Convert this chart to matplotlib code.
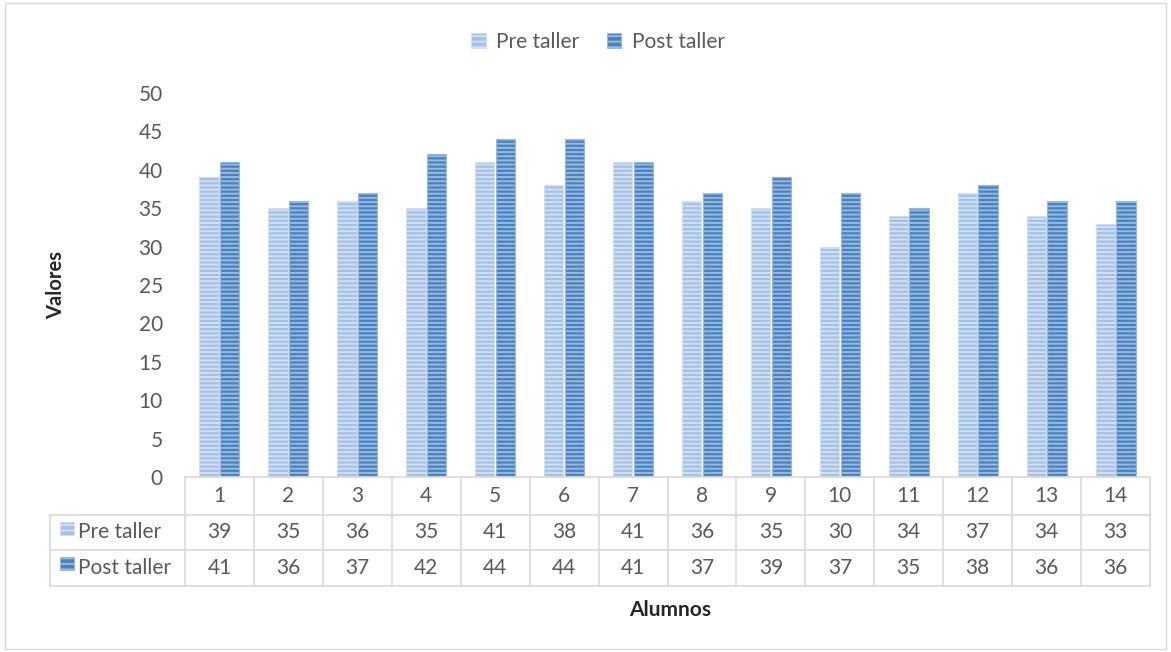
import numpy as np
import matplotlib
matplotlib.use("Agg")
import matplotlib.pyplot as plt
import matplotlib.transforms as mtransforms
from matplotlib.patches import Patch, Rectangle

alumnos = [str(i) for i in range(1, 15)]
pre_taller = [39, 35, 36, 35, 41, 38, 41, 36, 35, 30, 34, 37, 34, 33]
post_taller = [41, 36, 37, 42, 44, 44, 41, 37, 39, 37, 35, 38, 36, 36]
series_names = ["Pre taller", "Post taller"]

plt.rcParams['font.family'] = ['Lato', 'DejaVu Sans']
plt.rcParams['hatch.linewidth'] = 1.4
txt = '#595959'
grid_c = '#d9d9d9'
fs = 15

pre_face, pre_edge = '#a5c1e5', '#d0dff2'
post_face, post_edge = '#4a82c0', '#97b9df'

fig = plt.figure(figsize=(11.71, 6.52), dpi=100)
fig.patches.append(Rectangle((0.004, 0.004), 0.992, 0.992, transform=fig.transFigure,
                             fill=False, edgecolor=grid_c, linewidth=1))
ax = fig.add_axes([185 / 1171, 1 - 477 / 652, 965 / 1171, 384 / 652])

x = np.arange(len(alumnos))
w = 0.28
ax.bar(x - w / 2 - 0.01, pre_taller, w, color=pre_face, edgecolor=pre_edge,
       linewidth=0.8, hatch='----')
ax.bar(x + w / 2 + 0.01, post_taller, w, color=post_face, edgecolor=post_edge,
       linewidth=0.8, hatch='----')

ax.set_xlim(-0.5, len(alumnos) - 0.5)
ax.set_ylim(0, 50)
ax.set_yticks(range(0, 51, 5))
ax.tick_params(axis='y', length=0, labelsize=fs, labelcolor=txt, pad=16)
ax.set_xticks([])
for s in ['top', 'right', 'left']:
    ax.spines[s].set_visible(False)
ax.spines['bottom'].set_color(grid_c)
ax.spines['bottom'].set_linewidth(1.2)

# data table under the axis
rows_y = [0, -38 / 384, -73 / 384, -109 / 384]
trans = mtransforms.blended_transform_factory(ax.transData, ax.transAxes)
lw = 1.2
for b in np.arange(-0.5, len(alumnos)):
    ax.plot([b, b], [rows_y[0], rows_y[3]], color=grid_c, lw=lw,
            transform=trans, clip_on=False)
left_px = (50 - 185) / 965
for yy in rows_y[1:]:
    ax.plot([left_px, 1], [yy, yy], color=grid_c, lw=lw,
            transform=ax.transAxes, clip_on=False)
ax.plot([left_px, left_px], [rows_y[1], rows_y[3]], color=grid_c, lw=lw,
        transform=ax.transAxes, clip_on=False)

ym = [(rows_y[0] + rows_y[1]) / 2, (rows_y[1] + rows_y[2]) / 2,
      (rows_y[2] + rows_y[3]) / 2]
for i, lab in enumerate(alumnos):
    ax.text(i, ym[0], lab, ha='center', va='center', fontsize=fs, color=txt,
            transform=trans)
    ax.text(i, ym[1], str(pre_taller[i]), ha='center', va='center', fontsize=fs,
            color=txt, transform=trans)
    ax.text(i, ym[2], str(post_taller[i]), ha='center', va='center', fontsize=fs,
            color=txt, transform=trans)

for k, (name, fc, ec) in enumerate(zip(series_names, [pre_face, post_face],
                                       [pre_edge, post_edge])):
    y0, y1 = rows_y[k + 1], rows_y[k + 2]
    ax.add_patch(Rectangle(((60 - 185) / 965, y0 - 0.052), 14 / 965, 0.033,
                           transform=ax.transAxes, clip_on=False,
                           facecolor=fc, edgecolor=ec, lw=0.5, hatch='---'))
    ax.text((78 - 185) / 965, (y0 + y1) / 2, name, ha='left', va='center',
            fontsize=fs, color=txt, transform=ax.transAxes)

ax.set_ylabel('Valores', fontsize=14.5, fontweight='bold', color='#262626')
ax.yaxis.set_label_coords((66 - 185) / 965, 0.5)
fig.text(670 / 1171, 1 - 610 / 652, 'Alumnos', ha='center', va='center',
         fontsize=15, fontweight='bold', color='#262626')

handles = [Patch(facecolor=pre_face, edgecolor=pre_edge, hatch='---', lw=0.5),
           Patch(facecolor=post_face, edgecolor=post_edge, hatch='---', lw=0.5)]
fig.legend(handles, series_names, loc='center', bbox_to_anchor=(598 / 1171, 1 - 42 / 652),
           ncol=2, frameon=False, fontsize=fs, labelcolor=txt, handlelength=0.7,
           handleheight=0.7, handletextpad=0.5, columnspacing=1.3)

fig.savefig('out.png', dpi=100, facecolor='white')
